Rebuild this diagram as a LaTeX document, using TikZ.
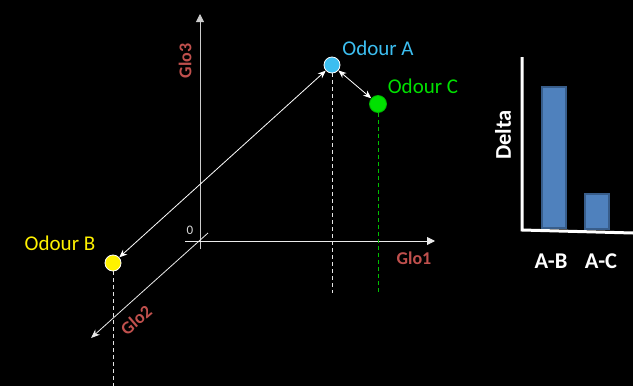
\documentclass[tikz,border=0pt]{standalone}
\usepackage{fontspec}
\setmainfont{Carlito}
\usetikzlibrary{arrows.meta}
\definecolor{glored}{RGB}{192,80,77}
\definecolor{odA}{RGB}{60,190,240}
\definecolor{odC}{RGB}{0,225,0}
\definecolor{barfill}{RGB}{79,129,189}
\definecolor{barline}{RGB}{56,93,138}
\tikzset{
  axisline/.style={draw=white!80!black, line width=0.9pt},
  odour/.style={circle, inner sep=0pt, minimum size=16pt, line width=0.8pt},
  odlabel/.style={font=\fontsize{21}{23}\selectfont, inner sep=0pt},
  glolabel/.style={font=\bfseries\fontsize{18}{20}\selectfont, text=glored, inner sep=0pt},
  pairarrow/.style={draw=white, line width=0.8pt, {Stealth[length=8pt,width=6.5pt]}-{Stealth[length=8pt,width=6.5pt]}},
  dropline/.style={line width=0.9pt, dash pattern=on 4pt off 3pt},
  bar/.style={fill=barfill, draw=barline, line width=1.2pt},
  barlabel/.style={font=\bfseries\fontsize{22.5}{24}\selectfont, text=white, inner sep=0pt}
}
\begin{document}
\begin{tikzpicture}[x=1pt,y=-1pt]
\fill[black] (0,0) rectangle (633,386);
\useasboundingbox (0,0) rectangle (633,386);
% axes
\coordinate (g3s) at (200,249);
\coordinate (g3e) at (200,14);
\coordinate (g1s) at (185,241);
\coordinate (g1e) at (435,241);
\coordinate (g2s) at (208,233);
\coordinate (g2e) at (91,338);
\draw[axisline, -{Triangle[length=8pt,width=8pt]}] (g3s) -- (g3e);
\draw[axisline, draw=white!92!black, -{Triangle[length=8pt,width=8pt]}] (g1s) -- (g1e);
\draw[axisline, draw=white!92!black, line width=0.8pt, -{Stealth[length=9pt,width=7pt]}] (g2s) -- (g2e);
\node[font=\fontsize{13}{15}\selectfont, text=white!85!black] (zero) at (190,230) {0};
\node[glolabel, rotate=90] (glo3) at (185,61) {Glo3};
\node[glolabel] (glo1) at (414,258) {Glo1};
\node[glolabel, rotate=41] (glo2) at (136,320) {Glo2};
% odours
\node[odour, fill=odA, draw=white] (A) at (332,65) {};
\node[odour, fill=odC, draw=odC!80!black, minimum size=17pt] (C) at (378,104) {};
\node[odour, fill=yellow, draw=white] (B) at (113,263) {};
\node[odlabel, text=odA] (lA) at (378,48) {Odour A};
\node[odlabel, text=odC] (lC) at (423,86) {Odour C};
\node[odlabel, text=yellow] (lB) at (60,243) {Odour B};
% drop lines
\coordinate (dA) at (332,293);
\coordinate (dC) at (378,292);
\coordinate (dB) at (113,386);
\draw[dropline, draw=white!90!black] (A.south) -- (dA);
\draw[dropline, draw=odC!85!black] (C.south) -- (dC);
\draw[dropline, draw=white!90!black] (B.south) -- (dB);
% pair arrows
\draw[pairarrow] (A) -- (B);
\draw[pairarrow] (A) -- (C);
% bar chart
\coordinate (bo) at (522,230);
\coordinate (by) at (522,57);
\coordinate (bx) at (633,233);
\draw[bar] (542,87) rectangle (566,228);
\draw[bar] (585,194) rectangle (609,229);
\draw[white, line width=3pt] (by) -- (bo) -- (bx);
\node[barlabel] (ab) at (551,261) {A-B};
\node[barlabel] (ac) at (601,261) {A-C};
\node[barlabel, rotate=90] (delta) at (503,135) {Delta};
\end{tikzpicture}
\end{document}
